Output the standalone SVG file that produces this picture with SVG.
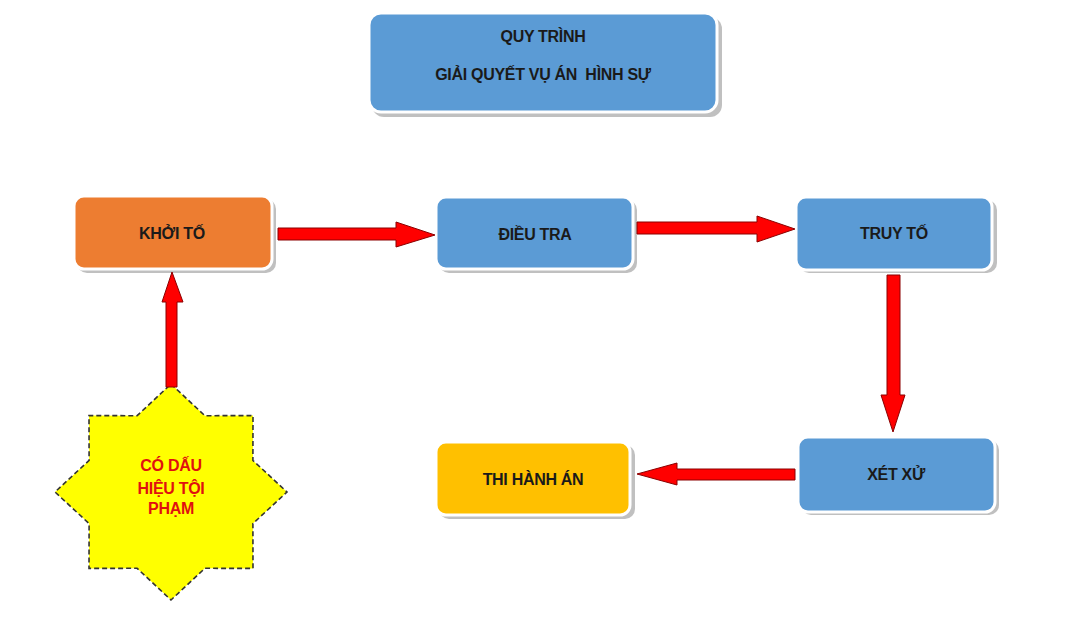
<svg xmlns="http://www.w3.org/2000/svg" width="1080" height="623" viewBox="0 0 1080 623">
<style>
.sh{fill:#b0b0b0;opacity:0.8}
.box{stroke:#ffffff;stroke-width:3}
.blue{fill:#5b9bd5}
.orange{fill:#ed7d31}
.gold{fill:#ffc000}
.lbl{font-family:"Liberation Sans",Arial,sans-serif;font-weight:bold;font-size:16px;fill:#1a1a1a;text-anchor:middle;letter-spacing:-0.3px}
.star{font-family:"Liberation Sans",Arial,sans-serif;font-weight:bold;font-size:16px;fill:#e01010;text-anchor:middle;letter-spacing:-0.3px}
.arr{fill:#ff0000;stroke:#8b0000;stroke-width:1}
</style>
<rect width="1080" height="623" fill="#ffffff"/>
<g id="title">
<rect class="sh" x="372" y="17" width="350" height="100" rx="12"/>
<rect class="box blue" x="369" y="13" width="348" height="99" rx="12"/>
<text class="lbl" x="543" y="42">QUY TRÌNH</text>
<text class="lbl" x="543" y="80" xml:space="preserve">GIẢI QUYẾT VỤ ÁN  HÌNH SỰ</text>
</g>
<g id="khoito">
<rect class="sh" x="77" y="199" width="199" height="74" rx="10"/>
<rect class="box orange" x="74" y="196" width="198" height="73" rx="10"/>
<text class="lbl" x="172" y="239">KHỞI TỐ</text>
</g>
<g id="dieutra">
<rect class="sh" x="439" y="200" width="198" height="73" rx="10"/>
<rect class="box blue" x="436" y="197" width="197" height="72" rx="10"/>
<text class="lbl" x="535" y="240">ĐIỀU TRA</text>
</g>
<g id="truyto">
<rect class="sh" x="799" y="200" width="198" height="73" rx="10"/>
<rect class="box blue" x="796" y="197" width="196" height="73" rx="10"/>
<text class="lbl" x="894" y="239">TRUY TỐ</text>
</g>
<g id="xetxu">
<rect class="sh" x="801" y="440" width="198" height="75" rx="10"/>
<rect class="box blue" x="798" y="437" width="197" height="75" rx="10"/>
<text class="lbl" x="896" y="480">XÉT XỬ</text>
</g>
<g id="thihanhan">
<rect class="sh" x="439" y="445" width="196" height="74" rx="10"/>
<rect class="box gold" x="436" y="442" width="194" height="73" rx="10"/>
<text class="lbl" x="533" y="485">THI HÀNH ÁN</text>
</g>
<g id="dauhieu">
<polygon points="171,384 204.9,415.7 253,415.6 252.9,460.4 287,492 252.9,523.6 253,568.4 204.9,568.3 171,600 137.1,568.3 89,568.4 89.1,523.6 55,492 89.1,460.4 89,415.6 137.1,415.7" fill="#ffff00" stroke="#333333" stroke-width="1.6" stroke-dasharray="5 3"/>
<text class="star" x="171" y="471">CÓ DẤU</text>
<text class="star" x="171" y="494">HIỆU TỘI</text>
<text class="star" x="171" y="514">PHẠM</text>
</g>
<g id="connectors">
<polygon class="arr" points="278,228 396,228 396,222 435,235 396,247 396,240 278,240"/>
<polygon class="arr" points="637,222 757,222 757,216 795,229 757,242 757,234 637,234"/>
<polygon class="arr" points="887,275 900,275 900,395 905,395 893,432 881,395 887,395"/>
<polygon class="arr" points="795,469 677,469 677,463 637,474 677,485 677,480 795,480"/>
<polygon class="arr" points="166,387 166,302 162,302 172,272 183,302 177,302 177,387"/>
</g>
</svg>
